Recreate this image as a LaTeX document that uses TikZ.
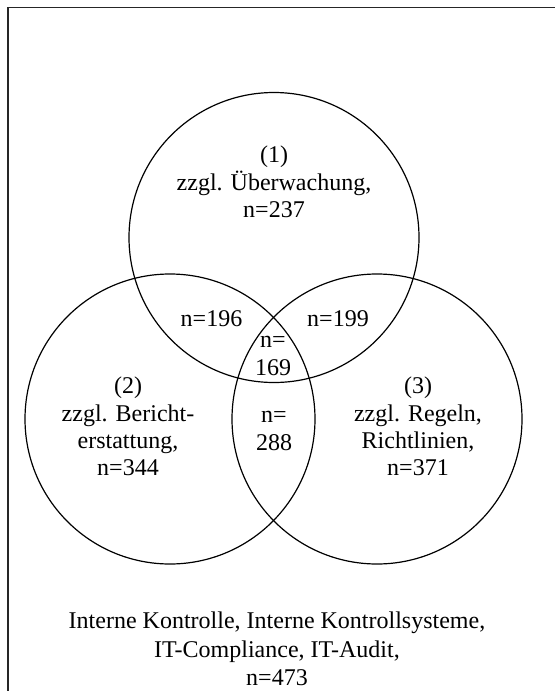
\documentclass[tikz,border=0pt]{standalone}
\usepackage{fontspec}
\setmainfont{Liberation Serif}
\begin{document}
\begin{tikzpicture}[x=0.5pt,y=-0.5pt,
  ring/.style={draw=black,line width=0.6pt},
  lbl/.style={align=center,inner sep=0pt,font=\fontsize{12}{13.7}\selectfont}]
\useasboundingbox (0,0) rectangle (555,691);
\begin{scope}
\clip (0,0) rectangle (555,691);
\draw[line width=0.9pt,draw=black!85] (8,7.5) rectangle (600,740);
\end{scope}
% the three sets
\draw[ring] (274,237.5) circle[radius=145];
\draw[ring] (170,419) circle[radius=145];
\draw[ring] (377,419) circle[radius=145];
% set labels
\node[lbl] (s1) at (274,182) {(1)\\zzgl. Überwachung,\\n=237};
\node[lbl] (s2) at (128,426.5) {(2)\\zzgl. Bericht-\\erstattung,\\n=344};
\node[lbl] (s3) at (418,426.5) {(3)\\zzgl. Regeln,\\Richtlinien,\\n=371};
% overlaps
\node[lbl] (s12) at (211.5,319) {n=196};
\node[lbl] (s13) at (338,319) {n=199};
\node[lbl] (s123) at (273,356) {n=\\169};
\node[lbl] (s23) at (274,431) {n=\\288};
% outer set
\node[lbl,font=\fontsize{12}{14.3}\selectfont] (all) at (277,649)
  {Interne Kontrolle, Interne Kontrollsysteme,\\IT-Compliance, IT-Audit,\\n=473};
\end{tikzpicture}
\end{document}
